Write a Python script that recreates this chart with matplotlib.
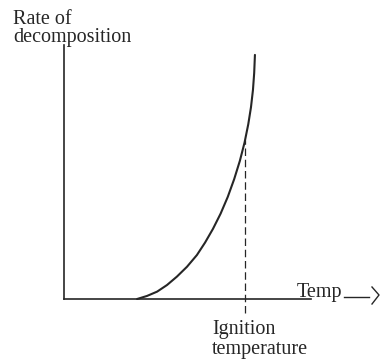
import matplotlib
matplotlib.use("Agg")
import matplotlib.pyplot as plt
import numpy as np

# Decomposition rate vs temperature (arbitrary units, axis spans 0-100)
temperature = [29.6, 33.6, 37.7, 41.7, 45.7, 49.8, 53.8, 57.1, 60.3, 63.4,
               66.3, 68.9, 71.2, 73.1, 74.6, 75.7, 76.5, 77.0, 77.3]
rate = [0.0, 1.2, 2.9, 5.5, 8.8, 12.7, 17.3, 22.2, 27.6, 33.6,
        40.2, 47.2, 54.4, 61.6, 68.8, 75.5, 82.3, 89.0, 96.1]
ignition_temperature = 73.3

y_label = "Rate of\ndecomposition"
x_label = "Temp"
ignition_label = "Ignition\ntemperature"

ink = "#262626"
W, H = 380, 359

fig = plt.figure(figsize=(W / 100, H / 100), dpi=100)
ax = fig.add_axes([64 / W, (H - 299) / H, 247 / W, 254 / H])
ax.set_xlim(0, 100)
ax.set_ylim(0, 100)
ax.set_xticks([])
ax.set_yticks([])
ax.patch.set_alpha(0)
for side in ("top", "right"):
    ax.spines[side].set_visible(False)
for side in ("left", "bottom"):
    ax.spines[side].set_color(ink)
    ax.spines[side].set_linewidth(1.2)

# rate curve
ax.plot(temperature, rate, color=ink, lw=1.5, solid_capstyle="round",
        solid_joinstyle="round", clip_on=False)

# ignition temperature marker
top = np.interp(ignition_temperature, temperature, rate)
ax.plot([ignition_temperature, ignition_temperature], [-5.5, top],
        color=ink, lw=0.9, dashes=(6, 3), clip_on=False)

serif = ["Liberation Serif", "DejaVu Serif"]
fs = 14.5


def px(x, y):
    return x / W, 1 - y / H


def label(x, y, s, spacing=1.0):
    # y is the baseline of the last line
    fig.text(*px(x, y), s, family=serif, fontsize=fs, color=ink,
             ha="left", va="baseline", linespacing=spacing)


label(13, 42, y_label, 0.96)
label(297, 297, x_label)
label(212, 354, ignition_label, 1.05)

# arrow after the axis label
fig.add_artist(plt.Line2D([px(344, 0)[0], px(369, 0)[0]],
                          [px(0, 297)[1], px(0, 297)[1]], color=ink, lw=1.0))
fig.add_artist(plt.Line2D([px(372, 0)[0], px(379, 0)[0], px(372, 0)[0]],
                          [px(0, 287)[1], px(0, 295)[1], px(0, 304)[1]],
                          color=ink, lw=1.0))

fig.savefig("out.png", dpi=100, facecolor="white")
